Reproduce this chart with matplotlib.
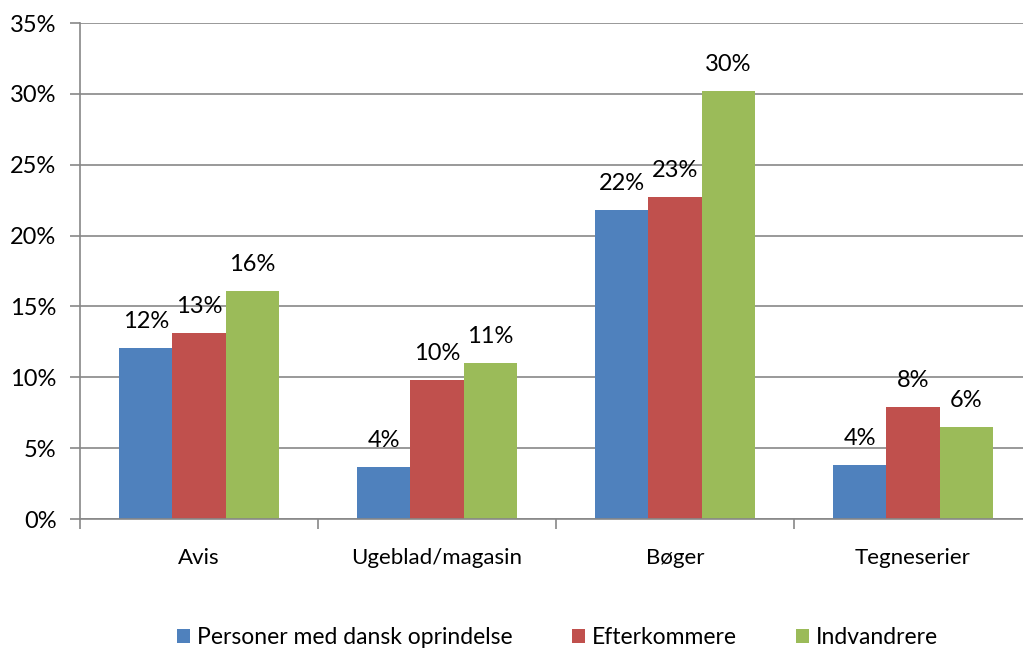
import numpy as np
import matplotlib.pyplot as plt

plt.rcParams['font.family'] = ['Lato', 'DejaVu Sans']

# data
categories = ["Avis", "Ugeblad/magasin", "Bøger", "Tegneserier"]
series_names = ["Personer med dansk oprindelse", "Efterkommere", "Indvandrere"]
dansk = [12.1, 3.7, 21.8, 3.8]
efterkommere = [13.1, 9.8, 22.7, 7.9]
indvandrere = [16.1, 11.0, 30.2, 6.5]
labels_dansk = ["12%", "4%", "22%", "4%"]
labels_efter = ["13%", "10%", "23%", "8%"]
labels_indv = ["16%", "11%", "30%", "6%"]

colors = ["#4F81BD", "#C0504D", "#9BBB59"]
grid_col = "#878787"

fig = plt.figure(figsize=(10.23, 6.51), dpi=100)
ax = fig.add_axes([80/1023, 132/651, 952/1023, 496/651])

x = np.arange(len(categories))
w = 0.223
all_vals = [dansk, efterkommere, indvandrere]
all_labels = [labels_dansk, labels_efter, labels_indv]
for i, (vals, labs) in enumerate(zip(all_vals, all_labels)):
    pos = x + (i - 1) * w
    ax.bar(pos, vals, width=w, color=colors[i], label=series_names[i], zorder=3)
    for p, v, t in zip(pos, vals, labs):
        ax.annotate(t, xy=(p, v), xytext=(0, 19), textcoords='offset points',
                    ha='center', va='center', fontsize=17, color='black')

ax.set_xlim(-0.5, 3.5)
ax.set_ylim(0, 35)
ax.set_yticks(np.arange(0, 36, 5))
ax.set_yticklabels([f"{v}%" for v in range(0, 36, 5)], fontsize=17)
ax.yaxis.grid(True, color=grid_col, linewidth=1.2, zorder=0)
ax.tick_params(axis='y', length=7, color=grid_col, width=1.2, pad=10)

ax.set_xticks(np.arange(-0.5, 4.0, 1.0))
ax.set_xticklabels([])
ax.set_xticks(x, minor=True)
ax.set_xticklabels(categories, minor=True, fontsize=16)
ax.tick_params(axis='x', which='major', length=7, color=grid_col, width=1.2, direction='out')
ax.tick_params(axis='x', which='minor', length=0, pad=21)

for s in ['top', 'right']:
    ax.spines[s].set_visible(False)
for s in ['left', 'bottom']:
    ax.spines[s].set_color(grid_col)
    ax.spines[s].set_linewidth(1.2)
    ax.spines[s].set_zorder(4)

fig.legend(loc='center', bbox_to_anchor=(0.545, 0.02), ncol=3, frameon=False,
           fontsize=16.5, handlelength=0.55, handleheight=0.55, handletextpad=0.3,
           columnspacing=2.6, borderpad=0.1)

fig.savefig("out.png", dpi=100)
